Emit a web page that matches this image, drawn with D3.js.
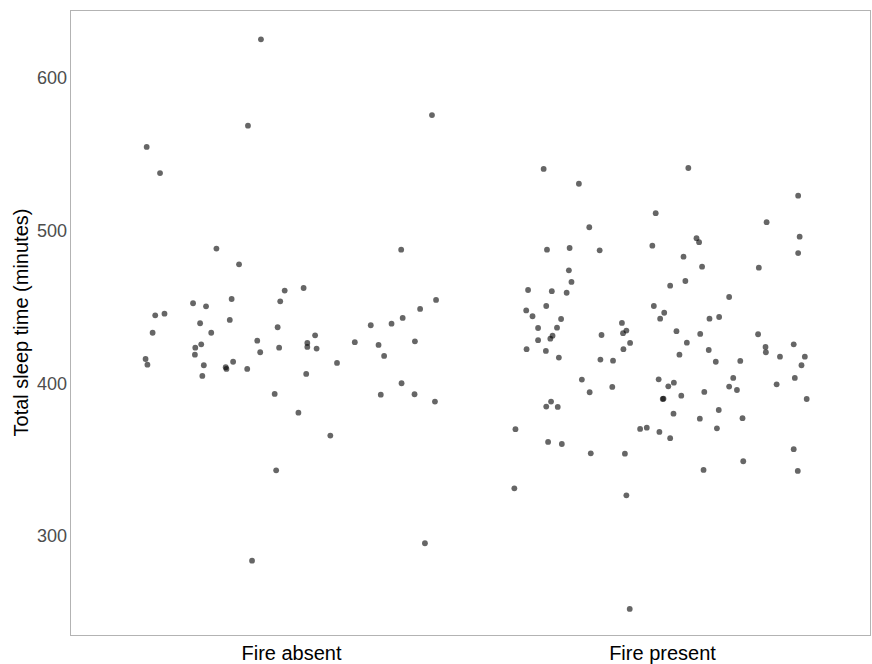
<!DOCTYPE html>
<html>
<head>
<meta charset="utf-8">
<script src="https://cdn.jsdelivr.net/npm/d3@7"></script>
<style>
  body { margin: 0; background: #fff; }
  text { font-family: "Liberation Sans", Arial, sans-serif; }
</style>
</head>
<body>
<div id="vis-container"></div>
<script>
// categories and tick labels
const categories = ["Fire absent", "Fire present"];
const yTicks = [300, 400, 500, 600];

// jitter offsets (in category units) and sleep values
const absentJitter = [-0.081, -0.116, -0.389, -0.353, 0.380, -0.201, -0.140, -0.017, -0.264, -0.229,
  -0.160, -0.029, -0.366, -0.341, -0.245, -0.165, -0.373, -0.215, -0.036, -0.091,
  -0.258, -0.242, -0.032, -0.259, -0.083, -0.392, -0.387, -0.235, -0.156, -0.176,
  -0.174, -0.118, -0.239, -0.044, 0.297, 0.034, 0.391, 0.348, 0.301, 0.271,
  0.215, 0.065, 0.044, 0.044, 0.069, 0.172, 0.236, 0.334, 0.251, 0.124,
  0.041, 0.298, 0.242, 0.333, 0.388, 0.020, 0.106, -0.040, 0.361, -0.105];
const absentSleep = [625.3, 568.7, 554.8, 537.7, 575.7, 488.2, 477.9, 460.7, 452.4, 450.4,
  455.2, 453.7, 444.5, 445.6, 439.3, 441.5, 433.1, 433.1, 436.7, 427.9,
  423.3, 425.5, 423.3, 418.7, 420.3, 415.9, 412.2, 411.8, 414.1, 410.5,
  409.4, 409.4, 404.8, 393.0, 487.5, 462.4, 454.6, 448.7, 442.8, 439.0,
  438.0, 431.4, 426.4, 423.8, 422.7, 426.9, 425.1, 427.5, 417.9, 413.3,
  406.1, 400.0, 392.5, 392.8, 388.0, 380.7, 365.7, 343.0, 295.2, 283.8];

const presentJitter = [-0.319, -0.224, -0.017, -0.196, -0.310, -0.249, -0.168, -0.026, -0.251, -0.244,
  -0.361, -0.297, -0.257, -0.312, -0.022, -0.366, 0.071, 0.367, 0.282, 0.093,
  0.100, 0.371, 0.058, 0.367, 0.108, 0.261, 0.022, 0.063, 0.181, -0.349,
  -0.272, -0.334, -0.283, -0.295, -0.301, -0.334, -0.365, -0.313, -0.278, -0.108,
  -0.096, -0.105, -0.163, -0.086, -0.104, -0.166, -0.132, -0.005, -0.216, -0.195,
  -0.134, -0.009, -0.299, -0.312, -0.281, -0.395, -0.059, -0.041, -0.007, -0.307,
  -0.270, -0.192, -0.100, 0.006, 0.128, 0.154, 0.039, 0.103, 0.259, 0.067,
  0.279, 0.280, 0.355, 0.047, 0.126, 0.145, 0.211, 0.318, 0.385, 0.376,
  0.017, 0.032, 0.192, 0.181, 0.202, 0.309, 0.358, 0.004, 0.002, 0.052,
  0.114, 0.390, 0.031, 0.102, 0.153, 0.217, 0.022, 0.148, 0.355, 0.219,
  0.112, 0.366, -0.398, -0.096, -0.087];
const presentSleep = [540.4, 530.7, 511.4, 502.2, 487.5, 488.6, 487.1, 490.1, 474.0, 466.4,
  461.1, 460.3, 459.3, 450.6, 450.6, 447.7, 541.0, 522.9, 505.5, 495.0,
  492.4, 496.0, 482.9, 485.3, 476.4, 475.7, 463.9, 467.0, 456.5, 443.9,
  442.1, 436.2, 436.4, 431.2, 429.2, 428.2, 422.3, 421.2, 416.8, 439.5,
  434.5, 432.8, 431.6, 426.4, 422.3, 415.5, 414.8, 442.3, 402.4, 394.1,
  397.6, 402.6, 388.0, 384.7, 384.5, 369.9, 370.1, 370.9, 368.1, 361.6,
  360.2, 354.1, 353.9, 446.2, 442.3, 443.4, 434.1, 432.3, 432.1, 426.6,
  423.8, 420.3, 425.5, 418.7, 421.8, 414.1, 414.6, 417.4, 417.4, 411.8,
  398.0, 400.4, 403.5, 397.8, 395.6, 399.3, 403.5, 389.9, 389.7, 391.9,
  394.3, 389.7, 380.1, 376.8, 382.5, 377.1, 364.0, 370.5, 356.8, 348.9,
  343.2, 342.6, 331.2, 326.6, 252.2];

const width = 872;
const height = 664;
const panel = { left: 70, right: 870, top: 10, bottom: 635 };

const points = [];
absentSleep.forEach((v, i) => points.push({ cat: categories[0], j: absentJitter[i], v: v }));
presentSleep.forEach((v, i) => points.push({ cat: categories[1], j: presentJitter[i], v: v }));

const svg = d3.select("#vis-container")
  .append("svg")
  .attr("width", width)
  .attr("height", height);

// x: category centres, y: sleep minutes
const x = d3.scalePoint()
  .domain(categories)
  .range([291, 662]);

const y = d3.scaleLinear()
  .domain([235.1, 644.5])
  .range([panel.bottom, panel.top]);

// panel border
svg.append("rect")
  .attr("x", panel.left + 0.5)
  .attr("y", panel.top + 0.5)
  .attr("width", panel.right - panel.left)
  .attr("height", panel.bottom - panel.top)
  .attr("fill", "none")
  .attr("stroke", "#b3b3b3")
  .attr("stroke-width", 1);

// y axis labels (no tick marks)
svg.append("g")
  .attr("transform", `translate(${panel.left}, 0)`)
  .call(d3.axisLeft(y).tickValues(yTicks).tickSize(0).tickPadding(3))
  .call(g => g.select(".domain").remove())
  .call(g => g.selectAll("text")
    .attr("font-size", "18px")
    .attr("fill", "#4d4d4d")
    .attr("font-family", "'Liberation Sans', Arial, sans-serif"));

// x axis labels
svg.append("g")
  .attr("transform", `translate(0, ${panel.bottom})`)
  .call(d3.axisBottom(x).tickSize(0).tickPadding(11))
  .call(g => g.select(".domain").remove())
  .call(g => g.selectAll("text")
    .attr("font-size", "20px")
    .attr("fill", "#000")
    .attr("font-family", "'Liberation Sans', Arial, sans-serif"));

// y title
svg.append("text")
  .attr("transform", `translate(28, ${(panel.top + panel.bottom) / 2}) rotate(-90)`)
  .attr("text-anchor", "middle")
  .attr("font-size", "20px")
  .attr("fill", "#000")
  .text("Total sleep time (minutes)");

// jittered points
svg.append("g")
  .selectAll("circle")
  .data(points)
  .join("circle")
  .attr("cx", d => x(d.cat) + d.j * x.step())
  .attr("cy", d => y(d.v))
  .attr("r", 2.9)
  .attr("fill", "#000")
  .attr("fill-opacity", 0.6);
</script>
</body>
</html>
